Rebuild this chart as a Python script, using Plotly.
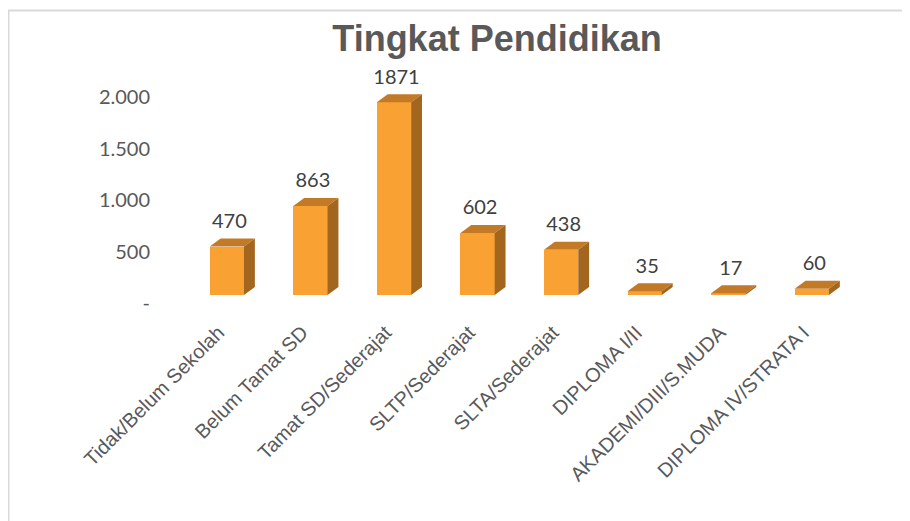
import plotly.graph_objects as go

categories = [
    "Tidak/Belum Sekolah", "Belum Tamat SD", "Tamat SD/Sederajat", "SLTP/Sederajat",
    "SLTA/Sederajat", "DIPLOMA I/II", "AKADEMI/DIII/S.MUDA", "DIPLOMA IV/STRATA I",
]
values = [470, 863, 1871, 602, 438, 35, 17, 60]
y_tickvals = [0, 500, 1000, 1500, 2000]
y_ticktext = ["-", "500", "1.000", "1.500", "2.000"]

# pseudo-3D look (Excel style column); page has an 8px body margin
W, H = 910, 521
L, R, T, B = 147, 31, 68, 226
BAR_W = 0.41
DX = 0.13      # depth in x units
DY = 78        # depth in y units
SHIFT = 78     # front face sits a bit above the floor
LABEL_PAD = 55
LABEL_DX = 0.1
FRONT, TOP, SIDE = "#FAA133", "#C27A27", "#A2661F"

x = list(range(len(values)))
fig = go.Figure()

fig.add_trace(go.Bar(x=x, y=values, base=[SHIFT] * len(values), width=BAR_W,
                     marker=dict(color=FRONT, line=dict(width=0)),
                     hoverinfo="skip", showlegend=False))

for i, v in enumerate(values):
    x0, x1 = i - BAR_W / 2, i + BAR_W / 2
    y0, y1 = SHIFT, SHIFT + v
    # top face
    fig.add_trace(go.Scatter(
        x=[x0, x1, x1 + DX, x0 + DX, x0], y=[y1, y1, y1 + DY, y1 + DY, y1],
        fill="toself", fillcolor=TOP, mode="lines", line=dict(width=0, color=TOP),
        hoverinfo="skip", showlegend=False))
    # side face
    fig.add_trace(go.Scatter(
        x=[x1, x1 + DX, x1 + DX, x1, x1], y=[y0, y0 + DY, y1 + DY, y1, y0],
        fill="toself", fillcolor=SIDE, mode="lines", line=dict(width=0, color=SIDE),
        hoverinfo="skip", showlegend=False))

# value labels
fig.add_trace(go.Scatter(
    x=[i + 0.03 for i in x], y=[SHIFT + v + DY + LABEL_PAD for v in values],
    text=[str(v) for v in values], mode="text", textposition="top center",
    textfont=dict(family="Lato", size=20, color="#404040"),
    cliponaxis=False, hoverinfo="skip", showlegend=False))

# chart frame (left/top edges visible)
pw = W - L - R
ph = H - T - B
def px_x(p):
    return (p - L) / pw
def px_y(p):
    return (H - B - p) / ph

fig.add_shape(type="rect", xref="paper", yref="paper",
              x0=px_x(0.5), x1=px_x(930), y0=px_y(540), y1=px_y(2.5),
              line=dict(color="#D9D9D9", width=2), fillcolor="rgba(0,0,0,0)")

fig.update_layout(
    width=W, height=H,
    margin=dict(l=L, r=R, t=T, b=B),
    paper_bgcolor="white", plot_bgcolor="white",
    title=dict(text="<b>Tingkat Pendidikan</b>", x=489 / W, xanchor="center",
               y=1 - 30 / H, yanchor="middle",
               font=dict(family="Liberation Sans", size=36, color="#595959")),
    bargap=0,
)
fig.update_xaxes(range=[-0.86, 7.9], tickvals=[i - LABEL_DX for i in x],
                 ticktext=categories, tickangle=-45,
                 showgrid=False, zeroline=False, showline=False, ticks="",
                 ticklabelstandoff=13,
                 tickfont=dict(family="Liberation Sans", size=20, color="#595959"))
fig.update_yaxes(range=[0, 2204], tickvals=y_tickvals, ticktext=y_ticktext,
                 showgrid=False, zeroline=False, showline=False, ticks="",
                 ticklabelstandoff=4,
                 tickfont=dict(family="Lato", size=20, color="#595959"))

fig.write_html("out.html")
